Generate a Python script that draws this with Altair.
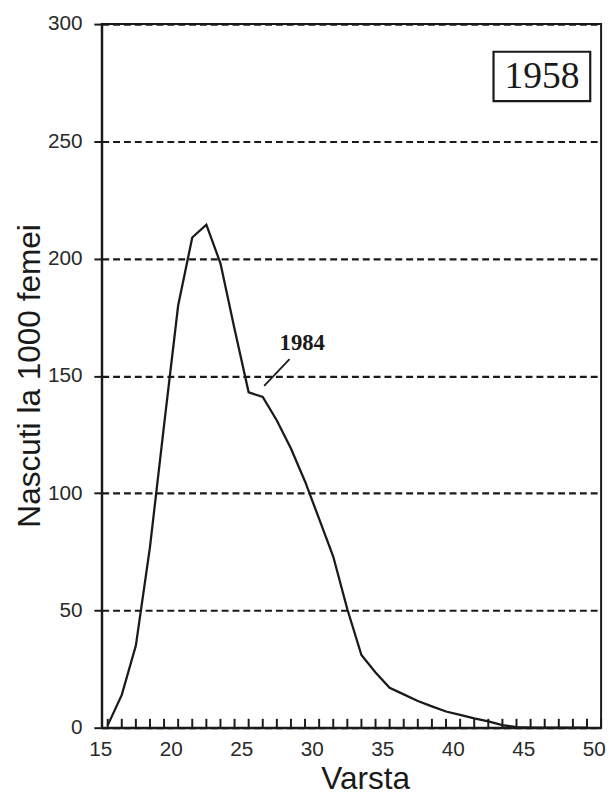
import altair as alt
import pandas as pd

# --- data ---
ages = list(range(15, 50))
births = [1, 14, 35, 77, 129, 180, 209, 214.5, 198, 170,
          143, 141, 131, 119, 105, 89, 73, 50.5, 31, 23.5,
          17, 14.2, 11.4, 9.1, 6.9, 5.5, 4.0, 2.7, 1.1, 0.2,
          0, 0, 0, 0, 0]
y_ticks = [0, 50, 100, 150, 200, 250, 300]
x_labels = [15, 20, 25, 30, 35, 40, 45, 50]
minor_ticks = list(range(15, 51))
series_label = ["1984"]
label_pos_x = [28.8]
label_pos_y = [164]
leader_x = [26.1]
leader_y = [145.7]
leader_x2 = [27.9]
leader_y2 = [157.1]
panel_label = ["1958"]

df = pd.DataFrame({"age": ages, "births": births})
ticks_df = pd.DataFrame({"age": minor_ticks})
xlab_df = pd.DataFrame({"age": x_labels})
lab_df = pd.DataFrame({"label": series_label, "x": label_pos_x, "y": label_pos_y})
lead_df = pd.DataFrame({"x": leader_x, "y": leader_y, "x2": leader_x2, "y2": leader_y2})
panel_df = pd.DataFrame({"label": panel_label})

W, H = 506, 713
INK = "#1a1a1a"
xscale = alt.Scale(domain=[14.58, 50], nice=False, zero=False)
yscale = alt.Scale(domain=[0, 300], nice=False)

x_axis = alt.Axis(values=x_labels, title="Varsta", ticks=False, grid=False, labels=False,
                  domainColor=INK, domainWidth=2,
                  titleFontSize=32, titleFont="Liberation Sans", titleFontWeight="normal",
                  titleColor=INK, titleX=267, titleY=52, titleBaseline="middle")
y_axis = alt.Axis(values=y_ticks, title="Nascuti la 1000 femei",
                  tickSize=8, tickWidth=2, tickColor=INK,
                  labelFontSize=21, labelFont="Liberation Sans", labelColor="#2a2a2a",
                  labelPadding=12, labelFlush=False,
                  domainColor=INK, domainWidth=2,
                  grid=True, gridColor=INK, gridWidth=2.2, gridDash=[7, 4],
                  titleFontSize=32, titleFont="Liberation Sans", titleFontWeight="normal",
                  titleColor=INK, titleX=-73, titleY=356, titleAngle=270,
                  titleAlign="center", titleBaseline="middle")

line = alt.Chart(df).mark_line(color=INK, strokeWidth=2.3).encode(
    x=alt.X("age:Q", scale=xscale, axis=x_axis),
    y=alt.Y("births:Q", scale=yscale, axis=y_axis),
)

minor = alt.Chart(ticks_df).mark_rule(color=INK, strokeWidth=2).encode(
    x=alt.X("age:Q", scale=xscale),
    y=alt.value(H),
    y2=alt.value(H - 9),
)

xlabels = alt.Chart(xlab_df).mark_text(font="Liberation Sans", fontSize=21, color="#2a2a2a",
                                       baseline="middle", align="center", dx=-7).encode(
    x=alt.X("age:Q", scale=xscale),
    y=alt.value(H + 23),
    text=alt.Text("age:Q"),
)

leader = alt.Chart(lead_df).mark_rule(color=INK, strokeWidth=1.8).encode(
    x=alt.X("x:Q", scale=xscale), y=alt.Y("y:Q", scale=yscale),
    x2="x2:Q", y2="y2:Q",
)

lab = alt.Chart(lab_df).mark_text(font="Liberation Serif", fontSize=23, fontWeight="bold",
                                  color=INK, baseline="middle", align="center").encode(
    x=alt.X("x:Q", scale=xscale), y=alt.Y("y:Q", scale=yscale), text="label:N",
)

box = alt.Chart(panel_df).mark_rect(fill="white", stroke=INK, strokeWidth=2.2).encode(
    x=alt.value(397), x2=alt.value(495), y=alt.value(28), y2=alt.value(78),
)
box_text = alt.Chart(panel_df).mark_text(font="Liberation Serif", fontSize=38,
                                         color=INK, baseline="middle", align="center").encode(
    x=alt.value(446), y=alt.value(54), text="label:N",
)

chart = alt.layer(line, minor, xlabels, leader, lab, box, box_text).properties(
    width=W, height=H,
    autosize=alt.AutoSizeParams(type="none"),
    padding={"left": 95, "top": 11, "right": 7, "bottom": 70},
    background="white",
).configure_view(stroke=INK, strokeWidth=2)

chart.save("out.html", embed_options={"renderer": "svg", "actions": False})
